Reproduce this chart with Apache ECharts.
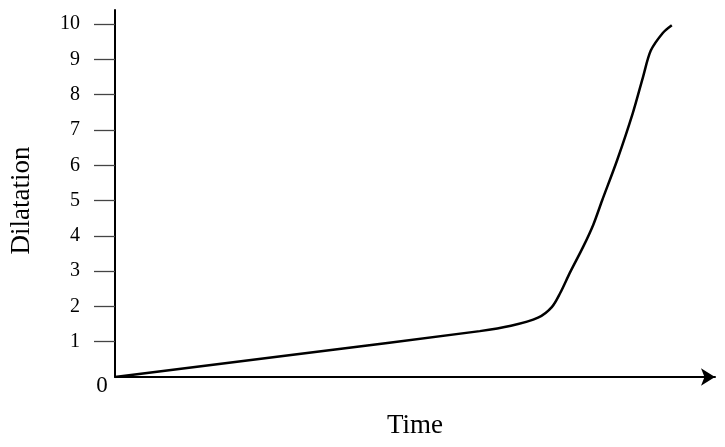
<!DOCTYPE html>
<html>
<head>
<meta charset="utf-8">
<script src="https://cdn.jsdelivr.net/npm/echarts@6/dist/echarts.min.js"></script>
<style>html,body{margin:0;padding:0;background:#fff;}#c{width:725px;height:447px;}</style>
</head>
<body>
<div id="c"></div>
<script>
// Time (relative units 0-100) and dilatation values
const timeValues = [0, 30, 60.8, 66, 70.5, 72.8, 74.2, 75.8, 78, 79.7, 81.2, 83.7, 86.3, 88, 89.3, 91.3, 92.8];
const dilatationValues = [0, 0.64, 1.30, 1.45, 1.68, 1.98, 2.38, 2.95, 3.68, 4.31, 5.01, 6.15, 7.48, 8.5, 9.25, 9.75, 9.97];
const yTickValues = [1, 2, 3, 4, 5, 6, 7, 8, 9, 10];
const xName = 'Time';
const yName = 'Dilatation';
const originLabel = '0';

const font = '"Liberation Serif", "Times New Roman", serif';
const chart = echarts.init(document.getElementById('c'));
const data = timeValues.map((t, i) => [t, dilatationValues[i]]);

chart.setOption({
  animation: false,
  backgroundColor: '#fff',
  grid: { left: 115, right: 10, top: 10, bottom: 70 },
  xAxis: {
    type: 'value', min: 0, max: 100,
    name: xName, nameLocation: 'middle', nameGap: 35,
    nameTextStyle: { fontFamily: font, fontSize: 27, color: '#000' },
    axisLine: { show: true, symbol: ['none', 'arrow'], symbolSize: [13, 14], lineStyle: { color: '#000', width: 2 } },
    axisTick: { show: false }, axisLabel: { show: false }, splitLine: { show: false }
  },
  yAxis: {
    type: 'value', min: 0, max: 10.4,
    name: yName, nameLocation: 'middle', nameGap: 80,
    nameTextStyle: { fontFamily: font, fontSize: 27, color: '#000', padding: [0, 14, 0, 0] },
    axisLine: { show: true, lineStyle: { color: '#000', width: 2 } },
    axisTick: { show: true, length: 21, customValues: yTickValues, lineStyle: { color: '#444', width: 1.3 } },
    axisLabel: { show: true, margin: 35, customValues: yTickValues, fontFamily: font, fontSize: 20, color: '#000' },
    splitLine: { show: false }
  },
  series: [{
    type: 'line', data: data, smooth: 0.3, showSymbol: false,
    lineStyle: { color: '#000', width: 2.5 }
  }]
});

const o = chart.convertToPixel({ gridIndex: 0 }, [0, 0]);
chart.setOption({
  graphic: [{
    type: 'text', x: o[0] - 13, y: o[1] + 9,
    style: { text: originLabel, font: '23px ' + font, fill: '#000', align: 'center', verticalAlign: 'middle' }
  }]
});
</script>
</body>
</html>
